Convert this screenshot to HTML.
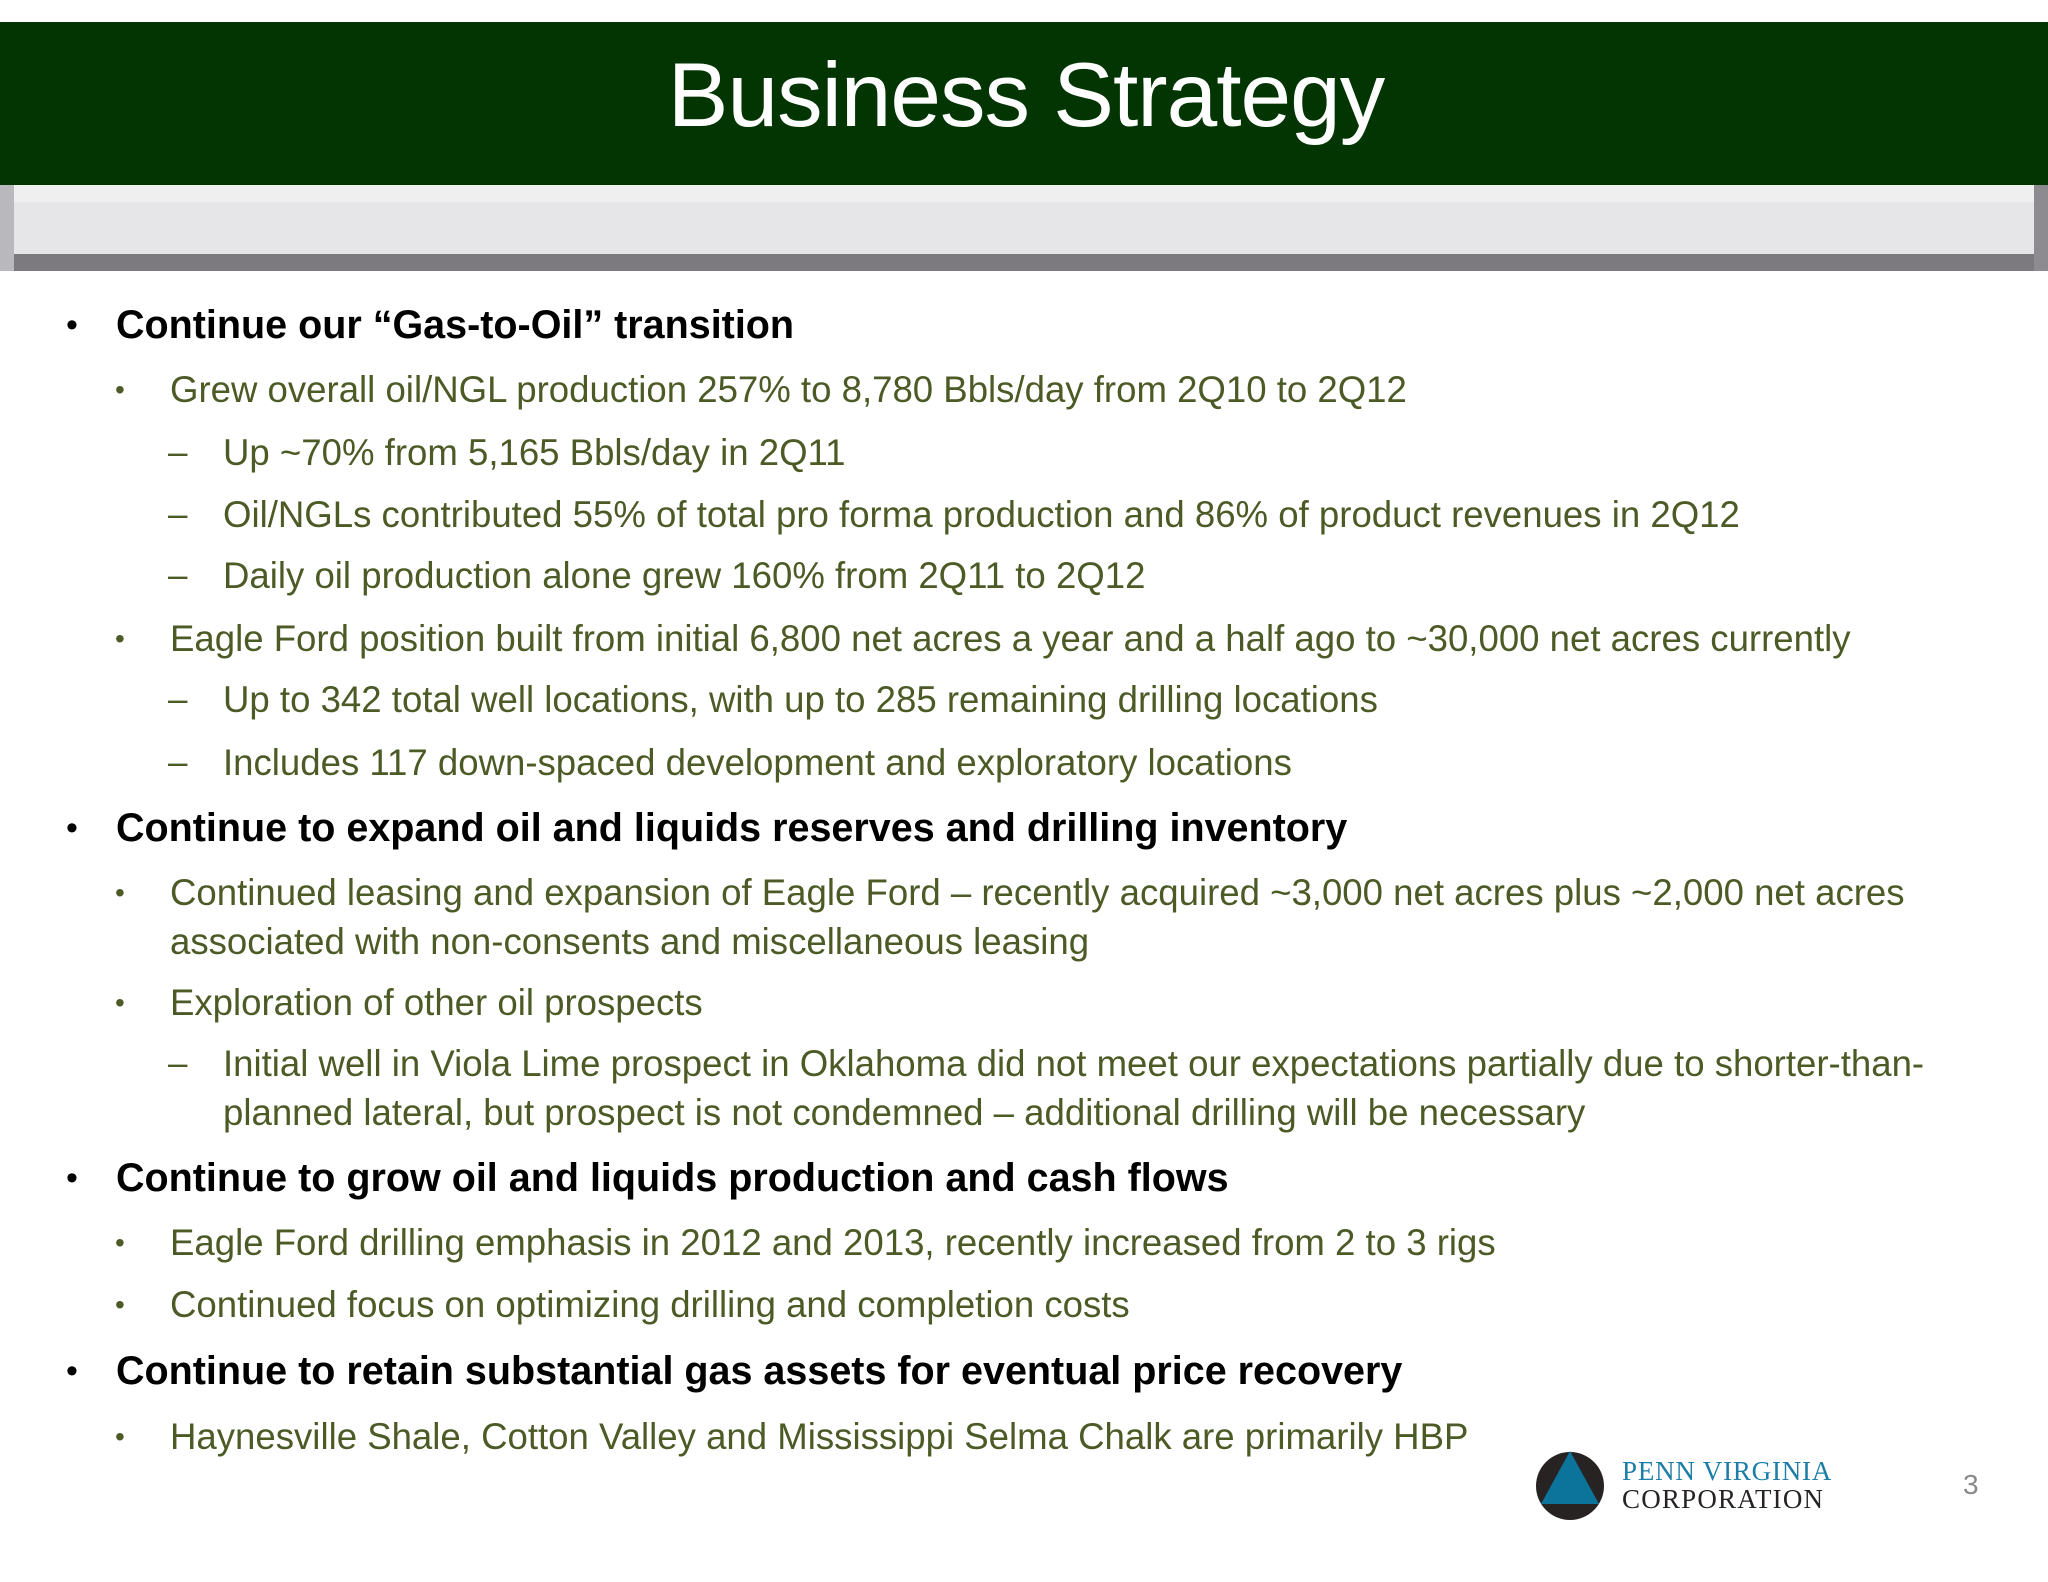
<!DOCTYPE html>
<html><head><meta charset="utf-8"><style>
html,body{margin:0;padding:0;}
body{width:2048px;height:1582px;position:relative;background:#fff;overflow:hidden;font-family:"Liberation Sans",sans-serif;}
.hdr{position:absolute;left:0;top:22px;width:2048px;height:163px;background:#023502;}
.title{position:absolute;left:0;top:46px;width:2052px;text-align:center;color:#fff;font-size:91px;line-height:100px;letter-spacing:-1px;}
.bar{position:absolute;left:0;top:185px;width:2048px;height:86px;background:#e6e5e8;}
.bar .top{position:absolute;left:0;top:0;width:100%;height:17px;background:#efefef;}
.bar .bot{position:absolute;left:0;bottom:0;width:100%;height:17px;background:#7c7a7e;}
.bar .l{position:absolute;left:0;top:0;width:14px;height:86px;background:#b9b8bc;}
.bar .r{position:absolute;right:0;top:0;width:14px;height:86px;background:#8d8b90;}
.ln{position:absolute;white-space:nowrap;line-height:44px;height:44px;}
.l1{font-weight:bold;color:#000;font-size:39.5px;left:116px;}
.l2{color:#4c5a26;font-size:36.6px;left:170px;}
.l3{color:#4c5a26;font-size:36.6px;left:223px;}
.mk{position:absolute;line-height:44px;}
.m1{left:66px;font-size:34px;color:#000;}
.m2{left:115px;font-size:28px;color:#4c5a26;}
.m3{left:168px;font-size:35px;color:#4c5a26;}
</style></head><body>
<div class="hdr"></div>
<div class="title">Business Strategy</div>
<div class="bar"><div class="top"></div><div class="bot"></div><div class="l"></div><div class="r"></div></div>

<div>
<span class="mk m1" style="top:303px">•</span><div class="ln l1" style="top:303px">Continue our “Gas-to-Oil” transition</div>
<span class="mk m2" style="top:368px">•</span><div class="ln l2" style="top:368px">Grew overall oil/NGL production 257% to 8,780 Bbls/day from 2Q10 to 2Q12</div>
<span class="mk m3" style="top:431px">–</span><div class="ln l3" style="top:431px">Up ~70% from 5,165 Bbls/day in 2Q11</div>
<span class="mk m3" style="top:493px">–</span><div class="ln l3" style="top:493px">Oil/NGLs contributed 55% of total pro forma production and 86% of product revenues in 2Q12</div>
<span class="mk m3" style="top:554px">–</span><div class="ln l3" style="top:554px">Daily oil production alone grew 160% from 2Q11 to 2Q12</div>
<span class="mk m2" style="top:617px">•</span><div class="ln l2" style="top:617px">Eagle Ford position built from initial 6,800 net acres a year and a half ago to ~30,000 net acres currently</div>
<span class="mk m3" style="top:678px">–</span><div class="ln l3" style="top:678px">Up to 342 total well locations, with up to 285 remaining drilling locations</div>
<span class="mk m3" style="top:741px">–</span><div class="ln l3" style="top:741px">Includes 117 down-spaced development and exploratory locations</div>
<span class="mk m1" style="top:806px">•</span><div class="ln l1" style="top:806px">Continue to expand oil and liquids reserves and drilling inventory</div>
<span class="mk m2" style="top:871px">•</span><div class="ln l2" style="top:871px">Continued leasing and expansion of Eagle Ford – recently acquired ~3,000 net acres plus ~2,000 net acres</div>
<div class="ln l2" style="top:920px">associated with non-consents and miscellaneous leasing</div>
<span class="mk m2" style="top:981px">•</span><div class="ln l2" style="top:981px">Exploration of other oil prospects</div>
<span class="mk m3" style="top:1042px">–</span><div class="ln l3" style="top:1042px">Initial well in Viola Lime prospect in Oklahoma did not meet our expectations partially due to shorter-than-</div>
<div class="ln l3" style="top:1091px">planned lateral, but prospect is not condemned – additional drilling will be necessary</div>
<span class="mk m1" style="top:1156px">•</span><div class="ln l1" style="top:1156px">Continue to grow oil and liquids production and cash flows</div>
<span class="mk m2" style="top:1221px">•</span><div class="ln l2" style="top:1221px">Eagle Ford drilling emphasis in 2012 and 2013, recently increased from 2 to 3 rigs</div>
<span class="mk m2" style="top:1283px">•</span><div class="ln l2" style="top:1283px">Continued focus on optimizing drilling and completion costs</div>
<span class="mk m1" style="top:1349px">•</span><div class="ln l1" style="top:1349px">Continue to retain substantial gas assets for eventual price recovery</div>
<span class="mk m2" style="top:1415px">•</span><div class="ln l2" style="top:1415px">Haynesville Shale, Cotton Valley and Mississippi Selma Chalk are primarily HBP</div>
</div>

<svg style="position:absolute;left:1530px;top:1446px" width="84" height="80">
<circle cx="40" cy="40" r="34" fill="#262322"/>
<polygon points="40,5 69,58 11,58" fill="#0c739b"/>
</svg>
<div style="position:absolute;left:1622px;top:1456px;font-family:'Liberation Serif',serif;font-size:27px;color:#1c7ea6;line-height:30px;letter-spacing:0.8px">PENN VIRGINIA</div>
<div style="position:absolute;left:1622px;top:1484px;font-family:'Liberation Serif',serif;font-size:27px;color:#262322;line-height:30px;letter-spacing:1.2px">CORPORATION</div>
<div style="position:absolute;left:1963px;top:1468px;font-size:28px;color:#8a8a8a;line-height:34px">3</div>
</body></html>
